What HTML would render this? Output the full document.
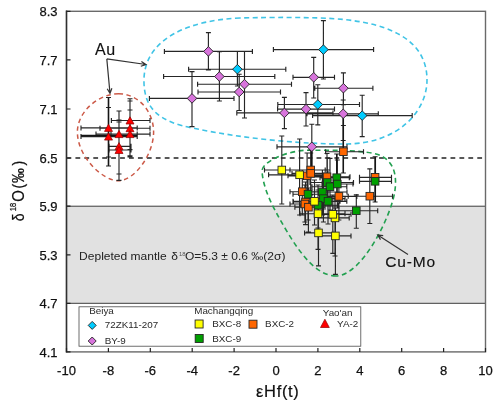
<!DOCTYPE html>
<html><head><meta charset="utf-8"><style>
html,body{margin:0;padding:0;background:#fff;}
body{width:500px;height:403px;overflow:hidden;}
svg{display:block;will-change:transform;}
</style></head><body>
<svg width="500" height="403" viewBox="0 0 500 403">
<rect width="500" height="403" fill="#fff"/>
<rect x="66.5" y="206.2" width="419.0" height="97.10000000000002" fill="#e1e1e1" stroke="#3c3c3c" stroke-width="1"/>
<path d="M66.5,158H485.5" stroke="#222" stroke-width="1.3" stroke-dasharray="4.8,4.13"/>
<path d="M118.5,93.8 C139,93.8 153.6,112 153.6,132 C153.6,155 134,180.8 118.5,180.8 C103,180.8 77.4,157 77.4,132 C77.4,112 98,93.8 118.5,93.8 Z" fill="none" stroke="#cc5a48" stroke-width="1.5" stroke-dasharray="4.5,3.5"/>
<path d="M240,18 C190,20 146,38 144,78 C143,108 158,122 195,128.5 C240,138 300,144.2 345,144 C400,143.8 427,110 427,80 C427,40 390,20 320,18 C290,17 260,17.5 240,18 Z" fill="none" stroke="#40c4e6" stroke-width="1.6" stroke-dasharray="5,3.5"/>
<path d="M336,276 C312,276 292,241 277,214 C271,203 263,187 262,171 C262,163 282,152 305,150.3 C330,150 360,150 376,154 C394,159 397,175 395,190 C392,215 362,276 336,276 Z" fill="none" stroke="#22a050" stroke-width="1.6" stroke-dasharray="5,3.5"/>
<path d="M81,127.9H137.2M81,125.4V130.4M137.2,125.4V130.4M108.5,97.5V157M106.0,97.5H111.0M106.0,157H111.0M81,136.6H137.2M81,134.1V139.1M137.2,134.1V139.1M108.5,107.5V166M106.0,107.5H111.0M106.0,166H111.0M96,134.1H137.2M96,131.6V136.6M137.2,131.6V136.6M119.0,111V174M116.5,111H121.5M116.5,174H121.5M111.4,120.5H150M111.4,118.0V123.0M150,118.0V123.0M130.0,98.7V149.6M127.5,98.7H132.5M127.5,149.6H132.5M100,128.2H150M100,125.69999999999999V130.7M150,125.69999999999999V130.7M130.0,101V155.8M127.5,101H132.5M127.5,155.8H132.5M111,134.1H150M111,131.6V136.6M150,131.6V136.6M130.0,110V157M127.5,110H132.5M127.5,157H132.5M109,146.3H131M109,143.8V148.8M131,143.8V148.8M119.0,120V174M116.5,120H121.5M116.5,174H121.5M109,150.0H131M109,147.5V152.5M131,147.5V152.5M119.0,122V180.3M116.5,122H121.5M116.5,180.3H121.5M188.6,69.2H285.8M188.6,66.7V71.7M285.8,66.7V71.7M237.4,51.5V86M234.9,51.5H239.9M234.9,86H239.9M273.4,49.6H373.6M273.4,47.1V52.1M373.6,47.1V52.1M323.4,20.6V79M320.9,20.6H325.9M320.9,79H325.9M277.8,104.5H359.5M277.8,102.0V107.0M359.5,102.0V107.0M317.8,84.7V124.8M315.3,84.7H320.3M315.3,124.8H320.3M312.6,115.6H412.2M312.6,113.1V118.1M412.2,113.1V118.1M362.2,95.2V136.6M359.7,95.2H364.7M359.7,136.6H364.7M164.4,51.4H252.4M164.4,48.9V53.9M252.4,48.9V53.9M208.4,32.6V70M205.9,32.6H210.9M205.9,70H210.9M163.6,76.5H274.8M163.6,74.0V79.0M274.8,74.0V79.0M219.4,51.6V101M216.9,51.6H221.9M216.9,101H221.9M149.4,98.4H234M149.4,95.9V100.9M234,95.9V100.9M192.0,71.6V126.6M189.5,71.6H194.5M189.5,126.6H194.5M197.6,84.2H291.5M197.6,81.7V86.7M291.5,81.7V86.7M244.5,51.5V118M242.0,51.5H247.0M242.0,118H247.0M198,92.0H280.5M198,89.5V94.5M280.5,89.5V94.5M239.2,74.2V110.5M236.7,74.2H241.7M236.7,110.5H241.7M236.8,112.9H333M236.8,110.4V115.4M333,110.4V115.4M284.4,97.4V128.6M281.9,97.4H286.9M281.9,128.6H286.9M293,77.3H334.5M293,74.8V79.8M334.5,74.8V79.8M313.7,57.4V98M311.2,57.4H316.2M311.2,98H316.2M277.6,109.1H334.5M277.6,106.6V111.6M334.5,106.6V111.6M306.0,92.6V126M303.5,92.6H308.5M303.5,126H308.5M314.8,88.2H372.9M314.8,85.7V90.7M372.9,85.7V90.7M343.4,72.9V104.7M340.9,72.9H345.9M340.9,104.7H345.9M307,113.8H378.3M307,111.3V116.3M378.3,111.3V116.3M343.2,100V140.5M340.7,100H345.7M340.7,140.5H345.7M277,146.8H347M277,144.3V149.3M347,144.3V149.3M311.8,124.2V168M309.3,124.2H314.3M309.3,168H314.3M264.5,170.0H325.2M264.5,167.5V172.5M325.2,167.5V172.5M281.8,136V204M279.3,136H284.3M279.3,204H284.3M268.6,174.8H330M268.6,172.3V177.3M330,172.3V177.3M299.6,139V215M297.1,139H302.1M297.1,215H302.1M293,201.3H340M293,198.8V203.8M340,198.8V203.8M314.5,180V225M312.0,180H317.0M312.0,225H317.0M300,213.7H345M300,211.2V216.2M345,211.2V216.2M318.0,190V249.4M315.5,190H320.5M315.5,249.4H320.5M316,214.3H351M316,211.8V216.8M351,211.8V216.8M332.8,195V253.3M330.3,195H335.3M330.3,253.3H335.3M318,217.9H349.2M318,215.4V220.4M349.2,215.4V220.4M335.0,197V256M332.5,197H337.5M332.5,256H337.5M304.6,232.9H333M304.6,230.4V235.4M333,230.4V235.4M318.5,205V265.9M316.0,205H321.0M316.0,265.9H321.0M318,235.9H351M318,233.4V238.4M351,233.4V238.4M335.4,208V274.3M332.9,208H337.9M332.9,274.3H337.9M325.6,151.7H363.5M325.6,149.2V154.2M363.5,149.2V154.2M343.4,125.5V173M340.9,125.5H345.9M340.9,173H345.9M288,175.8H325M288,173.3V178.3M325,173.3V178.3M307.1,153V198M304.6,153H309.6M304.6,198H309.6M290,170.0H330M290,167.5V172.5M330,167.5V172.5M310.7,153V190M308.2,153H313.2M308.2,190H313.2M292,173.4H328M292,170.9V175.9M328,170.9V175.9M310.7,150V195M308.2,150H313.2M308.2,195H313.2M305,176.8H350M305,174.3V179.3M350,174.3V179.3M327.0,153.5V200M324.5,153.5H329.5M324.5,200H329.5M290,191.7H318M290,189.2V194.2M318,189.2V194.2M302.3,170V215M299.8,170H304.8M299.8,215H304.8M320,196.4H356.8M320,193.9V198.9M356.8,193.9V198.9M338.9,175V220M336.4,175H341.4M336.4,220H341.4M359.5,177.3H391.5M359.5,174.8V179.8M391.5,174.8V179.8M375.1,156.7V202M372.6,156.7H377.6M372.6,202H377.6M348.2,196.2H392.5M348.2,193.7V198.7M392.5,193.7V198.7M369.8,168.9V223.5M367.3,168.9H372.3M367.3,223.5H372.3M293.4,202.0H322M293.4,199.5V204.5M322,199.5V204.5M305.5,182V224.6M303.0,182H308.0M303.0,224.6H308.0M290,204.0H320M290,201.5V206.5M320,201.5V206.5M304.9,185V222M302.4,185H307.4M302.4,222H307.4M294.9,207.2H325M294.9,204.7V209.7M325,204.7V209.7M308.4,188V232M305.9,188H310.9M305.9,232H310.9M320,177.7H349.3M320,175.2V180.2M349.3,175.2V180.2M336.7,154V200M334.2,154H339.2M334.2,200H339.2M310,182.5H353.5M310,180.0V185.0M353.5,180.0V185.0M327.3,158V205M324.8,158H329.8M324.8,205H329.8M312,186.7H346.8M312,184.2V189.2M346.8,184.2V189.2M330.0,158.4V210M327.5,158.4H332.5M327.5,210H332.5M322,184.0H353M322,181.5V186.5M353,181.5V186.5M337.3,160V208M334.8,160H339.8M334.8,208H339.8M293,194.2H325M293,191.7V196.7M325,191.7V196.7M308.0,175V220M305.5,175H310.5M305.5,220H310.5M305,192.0H347M305,189.5V194.5M347,189.5V194.5M322.4,170V215M319.9,170H324.9M319.9,215H324.9M306,198.6H345M306,196.1V201.1M345,196.1V201.1M323.4,178V222M320.9,178H325.9M320.9,222H325.9M359.5,181.3H391.5M359.5,178.8V183.8M391.5,178.8V183.8M375.1,156.7V202M372.6,156.7H377.6M372.6,202H377.6M335,210.7H377.7M335,208.2V213.2M377.7,208.2V213.2M356.3,194.8V228.2M353.8,194.8H358.8M353.8,228.2H358.8M300,205.2H338M300,202.7V207.7M338,202.7V207.7M318.0,185V228M315.5,185H320.5M315.5,228H320.5M312,201.3H346.8M312,198.8V203.8M346.8,198.8V203.8M328.0,182V224M325.5,182H330.5M325.5,224H330.5" fill="none" stroke="#262626" stroke-width="1.15"/>
<path d="M108.5,97.5V166M81,135.4H137.2M343.3,113.8V173M375.3,156.7V202M336.8,154V178M311.7,146.8V168" fill="none" stroke="#151515" stroke-width="1.5"/>
<path d="M237.4,64.4L242.20000000000002,69.2L237.4,74.0L232.6,69.2Z" fill="#00ccff" stroke="#222" stroke-width="0.9"/>
<path d="M323.4,44.800000000000004L328.2,49.6L323.4,54.4L318.59999999999997,49.6Z" fill="#00ccff" stroke="#222" stroke-width="0.9"/>
<path d="M317.8,99.7L322.6,104.5L317.8,109.3L313.0,104.5Z" fill="#00ccff" stroke="#222" stroke-width="0.9"/>
<path d="M362.2,110.8L367.0,115.6L362.2,120.39999999999999L357.4,115.6Z" fill="#00ccff" stroke="#222" stroke-width="0.9"/>
<path d="M208.4,46.6L213.20000000000002,51.4L208.4,56.199999999999996L203.6,51.4Z" fill="#d874dc" stroke="#222" stroke-width="0.9"/>
<path d="M219.4,71.7L224.20000000000002,76.5L219.4,81.3L214.6,76.5Z" fill="#d874dc" stroke="#222" stroke-width="0.9"/>
<path d="M192.0,93.60000000000001L196.8,98.4L192.0,103.2L187.2,98.4Z" fill="#d874dc" stroke="#222" stroke-width="0.9"/>
<path d="M244.5,79.4L249.3,84.2L244.5,89.0L239.7,84.2Z" fill="#d874dc" stroke="#222" stroke-width="0.9"/>
<path d="M239.2,87.2L244.0,92.0L239.2,96.8L234.39999999999998,92.0Z" fill="#d874dc" stroke="#222" stroke-width="0.9"/>
<path d="M284.4,108.10000000000001L289.2,112.9L284.4,117.7L279.59999999999997,112.9Z" fill="#d874dc" stroke="#222" stroke-width="0.9"/>
<path d="M313.7,72.5L318.5,77.3L313.7,82.1L308.9,77.3Z" fill="#d874dc" stroke="#222" stroke-width="0.9"/>
<path d="M306.0,104.3L310.8,109.1L306.0,113.89999999999999L301.2,109.1Z" fill="#d874dc" stroke="#222" stroke-width="0.9"/>
<path d="M343.4,83.4L348.2,88.2L343.4,93.0L338.59999999999997,88.2Z" fill="#d874dc" stroke="#222" stroke-width="0.9"/>
<path d="M343.2,109.0L348.0,113.8L343.2,118.6L338.4,113.8Z" fill="#d874dc" stroke="#222" stroke-width="0.9"/>
<path d="M311.8,142.0L316.6,146.8L311.8,151.60000000000002L307.0,146.8Z" fill="#d874dc" stroke="#222" stroke-width="0.9"/>
<rect x="339.6" y="147.9" width="7.6" height="7.6" fill="#ff6600" stroke="#262626" stroke-width="0.9"/>
<rect x="303.3" y="172.0" width="7.6" height="7.6" fill="#ff6600" stroke="#262626" stroke-width="0.9"/>
<rect x="306.9" y="166.2" width="7.6" height="7.6" fill="#ff6600" stroke="#262626" stroke-width="0.9"/>
<rect x="306.9" y="169.6" width="7.6" height="7.6" fill="#ff6600" stroke="#262626" stroke-width="0.9"/>
<rect x="323.2" y="173.0" width="7.6" height="7.6" fill="#ff6600" stroke="#262626" stroke-width="0.9"/>
<rect x="298.5" y="187.9" width="7.6" height="7.6" fill="#ff6600" stroke="#262626" stroke-width="0.9"/>
<rect x="335.1" y="192.6" width="7.6" height="7.6" fill="#ff6600" stroke="#262626" stroke-width="0.9"/>
<rect x="371.3" y="173.5" width="7.6" height="7.6" fill="#ff6600" stroke="#262626" stroke-width="0.9"/>
<rect x="366.0" y="192.4" width="7.6" height="7.6" fill="#ff6600" stroke="#262626" stroke-width="0.9"/>
<rect x="301.7" y="198.2" width="7.6" height="7.6" fill="#ff6600" stroke="#262626" stroke-width="0.9"/>
<rect x="301.1" y="200.2" width="7.6" height="7.6" fill="#ff6600" stroke="#262626" stroke-width="0.9"/>
<rect x="304.6" y="203.4" width="7.6" height="7.6" fill="#ff6600" stroke="#262626" stroke-width="0.9"/>
<rect x="332.9" y="173.9" width="7.6" height="7.6" fill="#00a000" stroke="#262626" stroke-width="0.9"/>
<rect x="323.5" y="178.7" width="7.6" height="7.6" fill="#00a000" stroke="#262626" stroke-width="0.9"/>
<rect x="326.2" y="182.9" width="7.6" height="7.6" fill="#00a000" stroke="#262626" stroke-width="0.9"/>
<rect x="333.5" y="180.2" width="7.6" height="7.6" fill="#00a000" stroke="#262626" stroke-width="0.9"/>
<rect x="304.2" y="190.4" width="7.6" height="7.6" fill="#00a000" stroke="#262626" stroke-width="0.9"/>
<rect x="318.6" y="188.2" width="7.6" height="7.6" fill="#00a000" stroke="#262626" stroke-width="0.9"/>
<rect x="319.6" y="194.8" width="7.6" height="7.6" fill="#00a000" stroke="#262626" stroke-width="0.9"/>
<rect x="371.3" y="177.5" width="7.6" height="7.6" fill="#00a000" stroke="#262626" stroke-width="0.9"/>
<rect x="352.5" y="206.9" width="7.6" height="7.6" fill="#00a000" stroke="#262626" stroke-width="0.9"/>
<rect x="314.2" y="201.4" width="7.6" height="7.6" fill="#00a000" stroke="#262626" stroke-width="0.9"/>
<rect x="324.2" y="197.5" width="7.6" height="7.6" fill="#00a000" stroke="#262626" stroke-width="0.9"/>
<rect x="331.6" y="232.1" width="7.6" height="7.6" fill="#ffff00" stroke="#262626" stroke-width="0.9"/>
<rect x="314.7" y="229.1" width="7.6" height="7.6" fill="#ffff00" stroke="#262626" stroke-width="0.9"/>
<rect x="331.2" y="214.1" width="7.6" height="7.6" fill="#ffff00" stroke="#262626" stroke-width="0.9"/>
<rect x="329.0" y="210.5" width="7.6" height="7.6" fill="#ffff00" stroke="#262626" stroke-width="0.9"/>
<rect x="314.2" y="209.9" width="7.6" height="7.6" fill="#ffff00" stroke="#262626" stroke-width="0.9"/>
<rect x="310.7" y="197.5" width="7.6" height="7.6" fill="#ffff00" stroke="#262626" stroke-width="0.9"/>
<rect x="295.8" y="171.0" width="7.6" height="7.6" fill="#ffff00" stroke="#262626" stroke-width="0.9"/>
<rect x="278.0" y="166.2" width="7.6" height="7.6" fill="#ffff00" stroke="#262626" stroke-width="0.9"/>
<path d="M108.5,124.2L112.5,131.4L104.5,131.4Z" fill="#ff0000" stroke="#900000" stroke-width="0.7"/>
<path d="M108.5,132.9L112.5,140.1L104.5,140.1Z" fill="#ff0000" stroke="#900000" stroke-width="0.7"/>
<path d="M119.0,130.4L123.0,137.6L115.0,137.6Z" fill="#ff0000" stroke="#900000" stroke-width="0.7"/>
<path d="M130.0,116.8L134.0,124.0L126.0,124.0Z" fill="#ff0000" stroke="#900000" stroke-width="0.7"/>
<path d="M130.0,124.5L134.0,131.7L126.0,131.7Z" fill="#ff0000" stroke="#900000" stroke-width="0.7"/>
<path d="M130.0,130.4L134.0,137.6L126.0,137.6Z" fill="#ff0000" stroke="#900000" stroke-width="0.7"/>
<path d="M119.0,142.6L123.0,149.8L115.0,149.8Z" fill="#ff0000" stroke="#900000" stroke-width="0.7"/>
<path d="M119.0,146.3L123.0,153.5L115.0,153.5Z" fill="#ff0000" stroke="#900000" stroke-width="0.7"/>
<rect x="66.5" y="11.3" width="419.0" height="340.59999999999997" fill="none" stroke="#6a6a6a" stroke-width="1.4"/>
<path d="M66.5,10.600000000000001V352.59999999999997" stroke="#303030" stroke-width="1.4"/>
<path d="M66.5,351.9V348.09999999999997M108.4,351.9V348.09999999999997M150.3,351.9V348.09999999999997M192.2,351.9V348.09999999999997M234.1,351.9V348.09999999999997M276.0,351.9V348.09999999999997M317.9,351.9V348.09999999999997M359.8,351.9V348.09999999999997M401.7,351.9V348.09999999999997M443.6,351.9V348.09999999999997M485.5,351.9V348.09999999999997M66.5,11.3H70.5M66.5,59.9H70.5M66.5,109.0H70.5M66.5,158.0H70.5M66.5,206.2H70.5M66.5,254.8H70.5M66.5,303.3H70.5M66.5,351.9H70.5" stroke="#222" stroke-width="1.2"/>
<text x="57.5" y="16.0" text-anchor="end" style="font-family:'Liberation Sans',sans-serif;font-size:13px" fill="#111" stroke="#111" stroke-width="0.25">8.3</text>
<text x="57.5" y="64.6" text-anchor="end" style="font-family:'Liberation Sans',sans-serif;font-size:13px" fill="#111" stroke="#111" stroke-width="0.25">7.7</text>
<text x="57.5" y="113.7" text-anchor="end" style="font-family:'Liberation Sans',sans-serif;font-size:13px" fill="#111" stroke="#111" stroke-width="0.25">7.1</text>
<text x="57.5" y="162.7" text-anchor="end" style="font-family:'Liberation Sans',sans-serif;font-size:13px" fill="#111" stroke="#111" stroke-width="0.25">6.5</text>
<text x="57.5" y="210.9" text-anchor="end" style="font-family:'Liberation Sans',sans-serif;font-size:13px" fill="#111" stroke="#111" stroke-width="0.25">5.9</text>
<text x="57.5" y="259.5" text-anchor="end" style="font-family:'Liberation Sans',sans-serif;font-size:13px" fill="#111" stroke="#111" stroke-width="0.25">5.3</text>
<text x="57.5" y="308.0" text-anchor="end" style="font-family:'Liberation Sans',sans-serif;font-size:13px" fill="#111" stroke="#111" stroke-width="0.25">4.7</text>
<text x="57.5" y="356.6" text-anchor="end" style="font-family:'Liberation Sans',sans-serif;font-size:13px" fill="#111" stroke="#111" stroke-width="0.25">4.1</text>
<text x="66.5" y="374.6" text-anchor="middle" style="font-family:'Liberation Sans',sans-serif;font-size:13px" fill="#111" stroke="#111" stroke-width="0.25">-10</text>
<text x="108.4" y="374.6" text-anchor="middle" style="font-family:'Liberation Sans',sans-serif;font-size:13px" fill="#111" stroke="#111" stroke-width="0.25">-8</text>
<text x="150.3" y="374.6" text-anchor="middle" style="font-family:'Liberation Sans',sans-serif;font-size:13px" fill="#111" stroke="#111" stroke-width="0.25">-6</text>
<text x="192.2" y="374.6" text-anchor="middle" style="font-family:'Liberation Sans',sans-serif;font-size:13px" fill="#111" stroke="#111" stroke-width="0.25">-4</text>
<text x="234.1" y="374.6" text-anchor="middle" style="font-family:'Liberation Sans',sans-serif;font-size:13px" fill="#111" stroke="#111" stroke-width="0.25">-2</text>
<text x="276.0" y="374.6" text-anchor="middle" style="font-family:'Liberation Sans',sans-serif;font-size:13px" fill="#111" stroke="#111" stroke-width="0.25">0</text>
<text x="317.9" y="374.6" text-anchor="middle" style="font-family:'Liberation Sans',sans-serif;font-size:13px" fill="#111" stroke="#111" stroke-width="0.25">2</text>
<text x="359.8" y="374.6" text-anchor="middle" style="font-family:'Liberation Sans',sans-serif;font-size:13px" fill="#111" stroke="#111" stroke-width="0.25">4</text>
<text x="401.7" y="374.6" text-anchor="middle" style="font-family:'Liberation Sans',sans-serif;font-size:13px" fill="#111" stroke="#111" stroke-width="0.25">6</text>
<text x="443.6" y="374.6" text-anchor="middle" style="font-family:'Liberation Sans',sans-serif;font-size:13px" fill="#111" stroke="#111" stroke-width="0.25">8</text>
<text x="485.5" y="374.6" text-anchor="middle" style="font-family:'Liberation Sans',sans-serif;font-size:13px" fill="#111" stroke="#111" stroke-width="0.25">10</text>
<text class="t" transform="translate(256.0,396.5) scale(1.0,1)" style="font-family:'Liberation Sans',sans-serif;font-size:16.5px;letter-spacing:0.68px" fill="#111" stroke="#111" stroke-width="0.2">εHf(t)</text>
<g class="t" transform="translate(23.6,191.6) scale(1.12,1) rotate(-90)"><text y="0" style="font-family:'Liberation Sans',sans-serif;font-size:14.0px" fill="#111" stroke="#111" stroke-width="0.2"><tspan x="-29.6">δ</tspan><tspan x="-19.6" y="-7" font-size="7.5">18</tspan><tspan x="-10.2" y="0" textLength="11.6" lengthAdjust="spacingAndGlyphs">O</tspan><tspan x="3.2">(</tspan><tspan x="8.6" textLength="14.8" lengthAdjust="spacingAndGlyphs">‰</tspan><tspan x="26">)</tspan></text></g>
<text class="t" transform="translate(79.1,260.0) scale(1.094,1)" style="font-family:'Liberation Sans',sans-serif;font-size:11.0px" fill="#222">Depleted mantle<tspan dx="4.2">δ</tspan><tspan font-size="5.4" dy="-4.2" dx="0.9" fill="#555">18</tspan><tspan dy="4.2" dx="-0.5">O=5.3 ± 0.6 ‰(2σ)</tspan></text>
<text class="t" transform="translate(95.0,55.0) scale(1.0,1)" style="font-family:'Liberation Sans',sans-serif;font-size:16.0px;letter-spacing:0.6px" fill="#111" stroke="#111" stroke-width="0.15">Au</text>
<text class="t" transform="translate(385.3,266.6) scale(1.0,1)" style="font-family:'Liberation Sans',sans-serif;font-size:15.5px;letter-spacing:0.85px" fill="#111" stroke="#111" stroke-width="0.15">Cu-Mo</text>
<path d="M106.8,58.9L146,64.5M140.8,66.2L146,64.5L141.4,61.4M106.8,58.9L110,93.4M107.2,88.7L110,93.4L111.9,88.2M408,254.6L377.7,234.9M383.2,235.6L377.7,234.9L380.5,239.6" fill="none" stroke="#333" stroke-width="1.2"/>
<rect x="79" y="306.8" width="281.8" height="39.39999999999998" fill="#fff" stroke="#4a4a4a" stroke-width="0.8"/>
<text class="t" transform="translate(89.2,314.1) scale(1.12,1)" style="font-family:'Liberation Sans',sans-serif;font-size:8.8px" fill="#2a2a2a">Beiya</text>
<path d="M92.2,321.4L96.2,325.4L92.2,329.4L88.2,325.4Z" fill="#00ccff" stroke="#222" stroke-width="0.9"/>
<text class="t" transform="translate(104.8,328) scale(1.12,1)" style="font-family:'Liberation Sans',sans-serif;font-size:8.8px" fill="#2a2a2a">72ZK11-207</text>
<path d="M92.2,337L96.2,341L92.2,345L88.2,341Z" fill="#d874dc" stroke="#222" stroke-width="0.9"/>
<text class="t" transform="translate(104.8,344) scale(1.12,1)" style="font-family:'Liberation Sans',sans-serif;font-size:8.8px" fill="#2a2a2a">BY-9</text>
<text class="t" transform="translate(194.2,314.1) scale(1.12,1)" style="font-family:'Liberation Sans',sans-serif;font-size:8.8px" fill="#2a2a2a">Machangqing</text>
<rect x="195.1" y="320.0" width="8" height="8" fill="#ffff00" stroke="#262626" stroke-width="0.9"/>
<text class="t" transform="translate(212.2,327) scale(1.12,1)" style="font-family:'Liberation Sans',sans-serif;font-size:8.8px" fill="#2a2a2a">BXC-8</text>
<rect x="249.0" y="320.2" width="8" height="8" fill="#ff6600" stroke="#262626" stroke-width="0.9"/>
<text class="t" transform="translate(265.1,327) scale(1.12,1)" style="font-family:'Liberation Sans',sans-serif;font-size:8.8px" fill="#2a2a2a">BXC-2</text>
<rect x="195.2" y="334.5" width="8" height="8" fill="#00a000" stroke="#262626" stroke-width="0.9"/>
<text class="t" transform="translate(212.2,341.5) scale(1.12,1)" style="font-family:'Liberation Sans',sans-serif;font-size:8.8px" fill="#2a2a2a">BXC-9</text>
<text class="t" transform="translate(322.8,315.5) scale(1.12,1)" style="font-family:'Liberation Sans',sans-serif;font-size:8.8px" fill="#2a2a2a">Yao'an</text>
<path d="M324.9,319.2L329.29999999999995,327.5L320.5,327.5Z" fill="#ff0000" stroke="#900000" stroke-width="0.7"/>
<text class="t" transform="translate(337.1,327) scale(1.12,1)" style="font-family:'Liberation Sans',sans-serif;font-size:8.8px" fill="#2a2a2a">YA-2</text>
</svg>
</body></html>
